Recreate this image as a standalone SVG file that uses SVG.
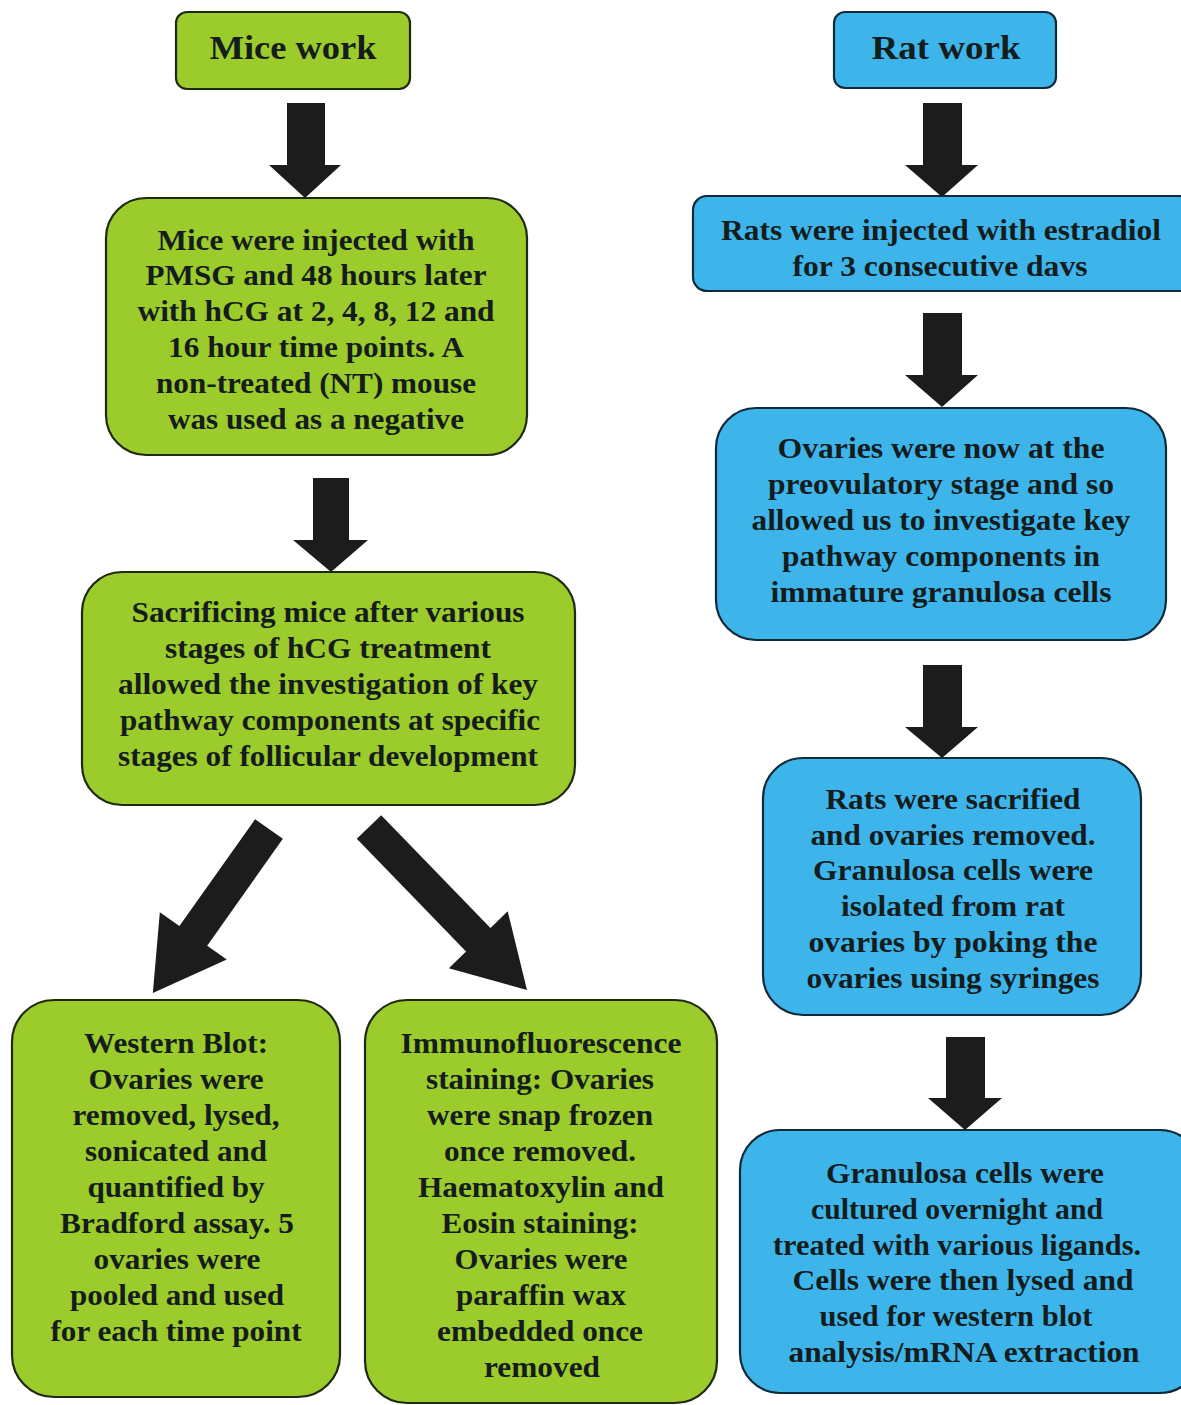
<svg xmlns="http://www.w3.org/2000/svg" width="1181" height="1405" viewBox="0 0 1181 1405">
<style>
.g{fill:#9CCB2C;stroke:#1e2a10;stroke-width:2.2}
.b{fill:#3DB5EB;stroke:#102a3a;stroke-width:2.2}
text{font-family:"Liberation Serif","Times New Roman",serif;font-weight:bold;font-size:29px;fill:#141c1c;text-anchor:middle}
.t{font-size:34px}
.ar{fill:#1c1c1c}
</style>
<rect width="1181" height="1405" fill="#ffffff"/>
<g id="connectors">
<path class="ar" d="M287,103 H325 V165 H341 L305,198 L269,165 H287 Z"/>
<path class="ar" d="M313,478 H349 V540 H368 L331,572 L293,540 H313 Z"/>
<path class="ar" transform="translate(269,829) rotate(125.3)" d="M0,-17 H131 V-41 L201,0 L131,41 V17 H0 Z"/>
<path class="ar" transform="translate(369,827) rotate(45.9)" d="M0,-17 H157 V-41 L227,0 L157,41 V17 H0 Z"/>
<path class="ar" d="M923,103 H962 V165 H978 L942,197 L905,165 H923 Z"/>
<path class="ar" d="M923,313 H962 V375 H978 L942,407 L905,375 H923 Z"/>
<path class="ar" d="M923,665 H962 V727 H978 L942,758 L905,727 H923 Z"/>
<path class="ar" d="M946,1037 H985 V1098 H1002 L965,1130 L928,1098 H946 Z"/>
</g>
<g id="mice-work">
<rect class="g" x="176" y="12" width="234" height="77" rx="11"/>
<text class="t" x="293" y="59" textLength="167" lengthAdjust="spacingAndGlyphs">Mice work</text>
</g>
<g id="mice-injected">
<rect class="g" x="106" y="198" width="421" height="257" rx="40"/>
<text x="316" y="250" textLength="317" lengthAdjust="spacingAndGlyphs">Mice were injected with</text>
<text x="316" y="285" textLength="341" lengthAdjust="spacingAndGlyphs">PMSG and 48 hours later</text>
<text x="316" y="321" textLength="357" lengthAdjust="spacingAndGlyphs">with hCG at 2, 4, 8, 12 and</text>
<text x="316" y="357" textLength="296" lengthAdjust="spacingAndGlyphs">16 hour time points. A</text>
<text x="316" y="393" textLength="320" lengthAdjust="spacingAndGlyphs">non-treated (NT) mouse</text>
<text x="316" y="429" textLength="296" lengthAdjust="spacingAndGlyphs">was used as a negative</text>
</g>
<g id="mice-sacrificing">
<rect class="g" x="82" y="572" width="493" height="233" rx="40"/>
<text x="328" y="622" textLength="393" lengthAdjust="spacingAndGlyphs">Sacrificing mice after various</text>
<text x="328" y="658" textLength="326" lengthAdjust="spacingAndGlyphs">stages of hCG treatment</text>
<text x="328" y="694" textLength="420" lengthAdjust="spacingAndGlyphs">allowed the investigation of key</text>
<text x="330" y="730" textLength="420" lengthAdjust="spacingAndGlyphs">pathway components at specific</text>
<text x="328" y="766" textLength="420" lengthAdjust="spacingAndGlyphs">stages of follicular development</text>
</g>
<g id="western-blot">
<rect class="g" x="12" y="1000" width="328" height="397" rx="42"/>
<text x="176" y="1053" textLength="184" lengthAdjust="spacingAndGlyphs">Western Blot:</text>
<text x="176" y="1089" textLength="175" lengthAdjust="spacingAndGlyphs">Ovaries were</text>
<text x="176" y="1125" textLength="207" lengthAdjust="spacingAndGlyphs">removed, lysed,</text>
<text x="176" y="1161" textLength="182" lengthAdjust="spacingAndGlyphs">sonicated and</text>
<text x="176" y="1197" textLength="177" lengthAdjust="spacingAndGlyphs">quantified by</text>
<text x="177" y="1233" textLength="234" lengthAdjust="spacingAndGlyphs">Bradford assay. 5</text>
<text x="177" y="1269" textLength="167" lengthAdjust="spacingAndGlyphs">ovaries were</text>
<text x="177" y="1305" textLength="214" lengthAdjust="spacingAndGlyphs">pooled and used</text>
<text x="176" y="1341" textLength="251" lengthAdjust="spacingAndGlyphs">for each time point</text>
</g>
<g id="immunofluorescence">
<rect class="g" x="365" y="1000" width="352" height="403" rx="42"/>
<text x="541" y="1053" textLength="281" lengthAdjust="spacingAndGlyphs">Immunofluorescence</text>
<text x="540" y="1089" textLength="228" lengthAdjust="spacingAndGlyphs">staining: Ovaries</text>
<text x="540" y="1125" textLength="226" lengthAdjust="spacingAndGlyphs">were snap frozen</text>
<text x="540" y="1161" textLength="192" lengthAdjust="spacingAndGlyphs">once removed.</text>
<text x="541" y="1197" textLength="246" lengthAdjust="spacingAndGlyphs">Haematoxylin and</text>
<text x="540" y="1233" textLength="197" lengthAdjust="spacingAndGlyphs">Eosin staining:</text>
<text x="541" y="1269" textLength="173" lengthAdjust="spacingAndGlyphs">Ovaries were</text>
<text x="541" y="1305" textLength="170" lengthAdjust="spacingAndGlyphs">paraffin wax</text>
<text x="540" y="1341" textLength="206" lengthAdjust="spacingAndGlyphs">embedded once</text>
<text x="542" y="1377" textLength="116" lengthAdjust="spacingAndGlyphs">removed</text>
</g>
<g id="rat-work">
<rect class="b" x="834" y="12" width="222" height="76" rx="11"/>
<text class="t" x="946" y="59" textLength="149" lengthAdjust="spacingAndGlyphs">Rat work</text>
</g>
<g id="rat-injected">
<rect class="b" x="693" y="196" width="500" height="95" rx="14"/>
<text x="941" y="240" textLength="440" lengthAdjust="spacingAndGlyphs">Rats were injected with estradiol</text>
<text x="940" y="276" textLength="295" lengthAdjust="spacingAndGlyphs">for 3 consecutive davs</text>
</g>
<g id="rat-preovulatory">
<rect class="b" x="716" y="408" width="450" height="232" rx="40"/>
<text x="941" y="458" textLength="327" lengthAdjust="spacingAndGlyphs">Ovaries were now at the</text>
<text x="941" y="494" textLength="346" lengthAdjust="spacingAndGlyphs">preovulatory stage and so</text>
<text x="941" y="530" textLength="379" lengthAdjust="spacingAndGlyphs">allowed us to investigate key</text>
<text x="941" y="566" textLength="318" lengthAdjust="spacingAndGlyphs">pathway components in</text>
<text x="941" y="602" textLength="341" lengthAdjust="spacingAndGlyphs">immature granulosa cells</text>
</g>
<g id="rat-sacrificed">
<rect class="b" x="763" y="758" width="378" height="257" rx="40"/>
<text x="953" y="809" textLength="255" lengthAdjust="spacingAndGlyphs">Rats were sacrified</text>
<text x="953" y="845" textLength="285" lengthAdjust="spacingAndGlyphs">and ovaries removed.</text>
<text x="953" y="880" textLength="280" lengthAdjust="spacingAndGlyphs">Granulosa cells were</text>
<text x="953" y="916" textLength="224" lengthAdjust="spacingAndGlyphs">isolated from rat</text>
<text x="953" y="952" textLength="289" lengthAdjust="spacingAndGlyphs">ovaries by poking the</text>
<text x="953" y="988" textLength="293" lengthAdjust="spacingAndGlyphs">ovaries using syringes</text>
</g>
<g id="rat-cultured">
<rect class="b" x="740" y="1130" width="460" height="263" rx="40"/>
<text x="965" y="1183" textLength="278" lengthAdjust="spacingAndGlyphs">Granulosa cells were</text>
<text x="957" y="1219" textLength="292" lengthAdjust="spacingAndGlyphs">cultured overnight and</text>
<text x="957" y="1255" textLength="368" lengthAdjust="spacingAndGlyphs">treated with various ligands.</text>
<text x="963" y="1290" textLength="341" lengthAdjust="spacingAndGlyphs">Cells were then lysed and</text>
<text x="956" y="1326" textLength="273" lengthAdjust="spacingAndGlyphs">used for western blot</text>
<text x="964" y="1362" textLength="351" lengthAdjust="spacingAndGlyphs">analysis/mRNA extraction</text>
</g>
</svg>
